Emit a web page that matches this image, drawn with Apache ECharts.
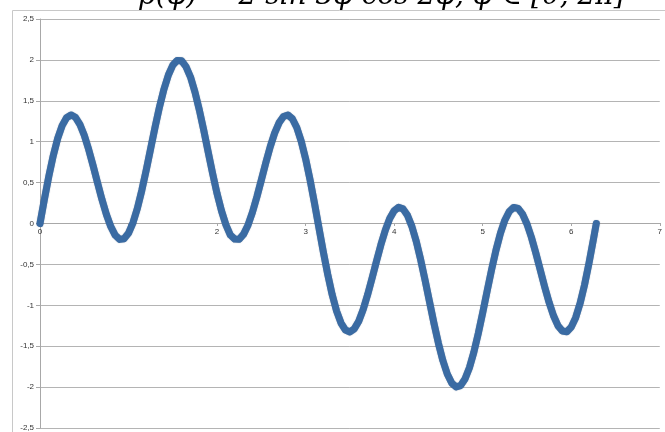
<!DOCTYPE html>
<html>
<head>
<meta charset="utf-8">
<script src="https://cdn.jsdelivr.net/npm/echarts@6/dist/echarts.min.js"></script>
<style>html,body{margin:0;padding:0;background:#fff;}#c{width:665px;height:432px;}</style>
</head>
<body>
<div id="c"></div>
<script>
var titleText = 'ρ(φ) = 2 sin 3φ cos 2φ, φ ∈ [0, 2π]';
var phi = [0,0.05,0.1,0.15,0.2,0.25,0.3,0.35,0.4,0.45,0.5,0.55,0.6,0.65,0.7,0.75,0.8,0.85,0.9,0.95,
  1.0,1.05,1.1,1.15,1.2,1.25,1.3,1.35,1.4,1.45,1.5,1.55,1.6,1.65,1.7,1.75,1.8,1.85,1.9,1.95,
  2.0,2.05,2.1,2.15,2.2,2.25,2.3,2.35,2.4,2.45,2.5,2.55,2.6,2.65,2.7,2.75,2.8,2.85,2.9,2.95,
  3.0,3.05,3.1,3.15,3.2,3.25,3.3,3.35,3.4,3.45,3.5,3.55,3.6,3.65,3.7,3.75,3.8,3.85,3.9,3.95,
  4.0,4.05,4.1,4.15,4.2,4.25,4.3,4.35,4.4,4.45,4.5,4.55,4.6,4.65,4.7,4.75,4.8,4.85,4.9,4.95,
  5.0,5.05,5.1,5.15,5.2,5.25,5.3,5.35,5.4,5.45,5.5,5.55,5.6,5.65,5.7,5.75,5.8,5.85,5.9,5.95,
  6.0,6.05,6.1,6.15,6.2,6.25,6.283];
var rho = [0,0.297,0.579,0.831,1.040,1.196,1.293,1.327,1.299,1.213,1.078,0.904,0.706,0.497,0.293,0.110,-0.039,-0.144,-0.194,-0.186,
  -0.117,0.009,0.186,0.406,0.653,0.916,1.179,1.426,1.642,1.816,1.936,1.994,1.989,1.916,1.790,1.608,1.386,1.136,0.871,0.610,
  0.365,0.154,-0.017,-0.141,-0.191,-0.193,-0.130,-0.017,0.139,0.327,0.532,0.740,0.936,1.104,1.231,1.308,1.326,1.281,1.174,1.008,
  0.791,0.534,0.248,-0.050,-0.346,-0.624,-0.870,-1.071,-1.217,-1.303,-1.326,-1.288,-1.194,-1.052,-0.872,-0.671,-0.462,-0.261,-0.082,0.060,
  0.156,0.197,0.179,0.100,-0.035,-0.220,-0.445,-0.696,-0.960,-1.222,-1.465,-1.675,-1.840,-1.950,-1.998,-1.982,-1.902,-1.763,-1.574,-1.345,
  -1.091,-0.827,-0.567,-0.327,-0.121,0.040,0.147,0.196,0.184,0.115,-0.006,-0.168,-0.360,-0.567,-0.774,-0.965,-1.128,-1.249,-1.315,-1.323,
  -1.267,-1.151,-0.976,-0.752,-0.487,-0.198,0];
var xTicks = [0,1,2,3,4,5,6,7];
var yTicks = [-2.5,-2,-1.5,-1,-0.5,0,0.5,1,1.5,2,2.5];

var data = phi.map(function(p,i){return [p, rho[i]];});
var chart = echarts.init(document.getElementById('c'));
chart.setOption({
  animation:false,
  backgroundColor:'#fff',
  graphic:[
    {type:'rect', shape:{x:12.5,y:10.5,width:700,height:500}, style:{fill:'none', stroke:'#c8c8c8', lineWidth:1}, z:-1},
    {type:'text', x:382, y:11, style:{text:titleText, font:'italic 28px "DejaVu Serif"', fill:'#000', align:'center', verticalAlign:'bottom'}, z:10}
  ],
  grid:{left:40, right:3, top:19, bottom:3, containLabel:false},
  xAxis:{type:'value', min:xTicks[0], max:xTicks[xTicks.length-1], interval:1,
    position:'bottom', offset:-205,
    axisLine:{onZero:false, lineStyle:{color:'#a8a8a8', width:1}},
    axisTick:{show:true, length:3, inside:false, lineStyle:{color:'#a8a8a8'}},
    axisLabel:{fontSize:8, color:'#333', margin:5, fontFamily:'Liberation Sans',
      formatter:function(v){return String(v);}},
    splitLine:{show:false}},
  yAxis:{type:'value', min:yTicks[0], max:yTicks[yTicks.length-1], interval:0.5,
    axisLine:{show:true, lineStyle:{color:'#a8a8a8', width:1}},
    axisTick:{show:true, length:4, lineStyle:{color:'#a8a8a8'}},
    axisLabel:{fontSize:8, color:'#333', margin:6, fontFamily:'Liberation Sans',
      formatter:function(v){return String(v).replace('.', ',');}},
    splitLine:{show:true, lineStyle:{color:'#b4b4b4', width:1}}},
  series:[{type:'line', data:data, smooth:false, showSymbol:false,
    lineStyle:{color:'#3a6ba3', width:7, cap:'round', join:'round',
      shadowColor:'rgba(20,50,90,0.5)', shadowBlur:1}, z:5}]
});
</script>
</body>
</html>
